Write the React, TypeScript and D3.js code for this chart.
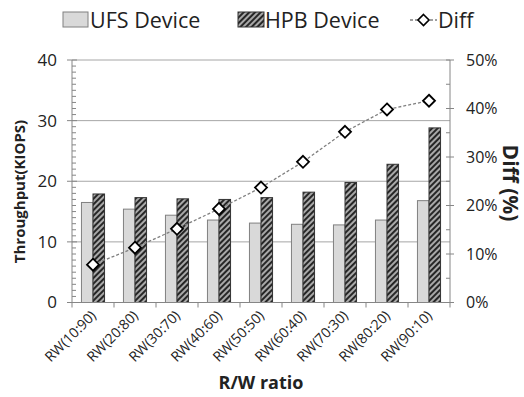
import React from "react";
import * as d3 from "d3";

const categories = ["RW(10:90)", "RW(20:80)", "RW(30:70)", "RW(40:60)", "RW(50:50)", "RW(60:40)", "RW(70:30)", "RW(80:20)", "RW(90:10)"];
const ufsDevice = [16.5, 15.4, 14.4, 13.6, 13.1, 12.9, 12.8, 13.6, 16.8];
const hpbDevice = [17.9, 17.3, 17.1, 17.0, 17.3, 18.2, 19.8, 22.8, 28.8];
const diff = [7.8, 11.3, 15.2, 19.3, 23.7, 29.0, 35.2, 39.8, 41.6];
const leftTicks = [0, 10, 20, 30, 40];
const rightTicks = [0, 10, 20, 30, 40, 50];

const W = 524, H = 397;
const FONT = "'Open Sans', 'Noto Sans', sans-serif";

export default function App() {
  // plot area
  const left = 72, right = 450, top = 60, bottom = 302.5;

  const x = d3.scaleBand().domain(categories).range([left, right]).paddingInner(0.45).paddingOuter(0.225);
  const step = (right - left) / categories.length;
  const inner = d3.scaleBand().domain(["ufs", "hpb"]).range([0, x.bandwidth()]);
  const y = d3.scaleLinear().domain([0, 40]).range([bottom, top]);
  const y2 = d3.scaleLinear().domain([0, 50]).range([bottom, top]);

  const minorLeft = d3.range(0, 41, 1).filter(v => v % 10 !== 0);
  const minorRight = d3.range(5, 50, 10);

  const line = d3.line<number>()
    .x((_, i) => left + step * i + step / 2)
    .y(d => y2(d));

  const boundaries = d3.range(0, categories.length + 1).map(i => left + step * i);

  return (
    <svg width={W} height={H} style={{ position: "absolute", left: 0, top: 0, background: "#fff" }} fontFamily={FONT}>
      <defs>
        <pattern id="hatch" width="4" height="4" patternUnits="userSpaceOnUse" patternTransform="rotate(45)">
          <rect width="4" height="4" fill="#a8a8a8" />
          <rect width="2" height="4" fill="#262626" />
        </pattern>
      </defs>

      {/* gridlines */}
      {leftTicks.filter(t => t > 0).map(t => (
        <line key={"g" + t} x1={left} x2={right} y1={y(t)} y2={y(t)} stroke="#a6a6a6" strokeWidth={1} />
      ))}

      {/* bars */}
      {categories.map((c, i) => (
        <g key={c} transform={`translate(${x(c)},0)`}>
          <rect x={inner("ufs")} y={y(ufsDevice[i])} width={inner.bandwidth()} height={bottom - y(ufsDevice[i])}
            fill="#d9d9d9" stroke="#808080" strokeWidth={1} />
          <rect x={inner("hpb")} y={y(hpbDevice[i])} width={inner.bandwidth()} height={bottom - y(hpbDevice[i])}
            fill="url(#hatch)" stroke="#333" strokeWidth={1} />
        </g>
      ))}

      {/* axes */}
      <line x1={left} x2={left} y1={top} y2={bottom} stroke="#868686" />
      <line x1={right} x2={right} y1={top} y2={bottom} stroke="#868686" />
      <line x1={left} x2={right} y1={bottom} y2={bottom} stroke="#868686" />
      {minorLeft.map(t => (
        <line key={"ml" + t} x1={left} x2={left + 4} y1={y(t)} y2={y(t)} stroke="#868686" />
      ))}
      {leftTicks.map(t => (
        <g key={"l" + t}>
          <line x1={left - 5} x2={left + 5} y1={y(t)} y2={y(t)} stroke="#868686" />
          <text x={left - 15} y={y(t)} dy="0.35em" textAnchor="end" fontSize={17} fill="#222">{t}</text>
        </g>
      ))}
      {minorRight.map(t => (
        <line key={"mr" + t} x1={right - 4} x2={right} y1={y2(t)} y2={y2(t)} stroke="#868686" />
      ))}
      {rightTicks.map(t => (
        <g key={"r" + t}>
          <line x1={right - 4} x2={right + 4} y1={y2(t)} y2={y2(t)} stroke="#868686" />
          <text x={right + 16} y={y2(t)} dy="0.35em" textAnchor="start" fontSize={16} fill="#222">{t}%</text>
        </g>
      ))}
      {boundaries.map((bx, i) => (
        <line key={"b" + i} x1={bx} x2={bx} y1={bottom} y2={bottom + 5} stroke="#868686" />
      ))}
      {categories.map((c, i) => (
        <text key={"xl" + c} transform={`translate(${left + step * i + step / 2 + 4},${bottom + 14}) rotate(-45)`}
          textAnchor="end" fontSize={14} fill="#222">{c}</text>
      ))}

      {/* diff line */}
      <path d={line(diff) || ""} fill="none" stroke="#808080" strokeWidth={1.3} strokeDasharray="3,2" />
      {diff.map((d, i) => {
        const cx = left + step * i + step / 2;
        const cy = y2(d);
        return (
          <path key={"d" + i} d={`M${cx},${cy - 6}L${cx + 6},${cy}L${cx},${cy + 6}L${cx - 6},${cy}Z`}
            fill="#fff" stroke="#000" strokeWidth={1.8} />
        );
      })}

      {/* axis titles */}
      <text transform={`translate(25,191.5) rotate(-90)`} textAnchor="middle" fontSize={15} fontWeight="bold" fill="#222">Throughput(KIOPS)</text>
      <text transform={`translate(503,183) rotate(90)`} textAnchor="middle" fontSize={21} fontWeight="bold" fill="#222">Diff (%)</text>
      <text x={261} y={389} textAnchor="middle" fontSize={18} fontWeight="bold" fill="#222">R/W ratio</text>

      {/* legend */}
      <rect x={63} y={12} width={25} height={15} fill="#d9d9d9" stroke="#808080" />
      <text x={90} y={28} fontSize={21.5} fill="#222">UFS Device</text>
      <rect x={238} y={12} width={26} height={15} fill="url(#hatch)" stroke="#333" />
      <text x={265} y={28} fontSize={21.5} fill="#222">HPB Device</text>
      <line x1={410} x2={437} y1={20} y2={20} stroke="#808080" strokeWidth={1.3} strokeDasharray="3,2" />
      <path d="M423.5,14.5L429,20L423.5,25.5L418,20Z" fill="#fff" stroke="#000" strokeWidth={1.6} />
      <text x={438} y={28} fontSize={21.5} fill="#222">Diff</text>
    </svg>
  );
}
